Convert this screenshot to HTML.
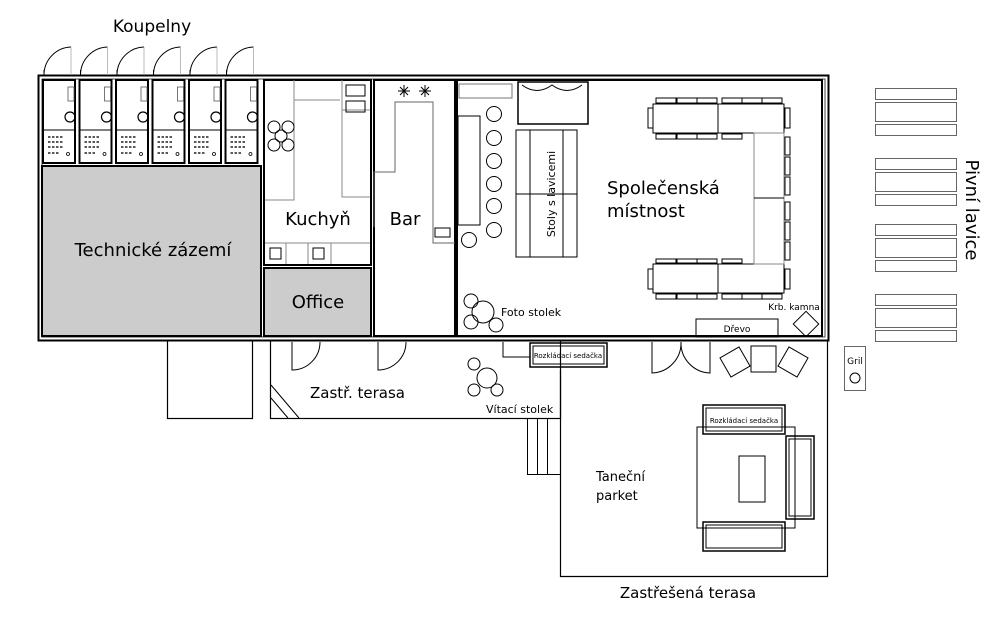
<!DOCTYPE html>
<html><head><meta charset="utf-8"><style>
html,body{margin:0;padding:0;background:#fff}
svg{display:block}
text{font-family:"DejaVu Sans","Liberation Sans",sans-serif;fill:#000}
</style></head><body>
<svg width="1000" height="620" viewBox="0 0 1000 620" xmlns="http://www.w3.org/2000/svg">
<g fill="none" stroke="#000">
<!-- terraces -->
<rect x="167.5" y="340.5" width="85" height="78" stroke-width="1.2"/>
<rect x="270.5" y="340.5" width="290" height="78" stroke-width="1.2"/>
<line x1="271" y1="385" x2="299" y2="418" stroke-width="1"/>
<line x1="271" y1="398" x2="288" y2="418" stroke-width="1"/>
<path d="M560.5 370 V576.5 H827.5 V341" stroke-width="1.2"/>
<path d="M527.5 418.5 V474.5 H560 M537.5 418.5 V474.5 M547.5 418.5 V474.5" stroke-width="1"/>
<!-- outer walls -->
<rect x="38.5" y="75.5" width="790" height="265" stroke-width="2"/>
<rect x="42" y="79" width="783" height="258" stroke-width="1" stroke="#444"/>
</g>
<!-- Technicke zazemi -->
<rect x="42" y="166" width="219" height="170" fill="#ccc" stroke="#000" stroke-width="2"/>
<!-- stalls -->
<g fill="none" stroke="#000">
<g id="st">
<rect x="43" y="80" width="32" height="83" stroke-width="2"/>
<line x1="43" y1="130" x2="75" y2="130" stroke-width="1"/>
<rect x="68" y="87" width="6" height="14" stroke-width="0.8" stroke="#555"/>
<circle cx="70" cy="117" r="5" stroke-width="1.2"/>
<path d="M44 75 A28 28 0 0 1 71 47" stroke-width="1"/>
<line x1="44" y1="75" x2="44" y2="70" stroke-width="1"/>
<line x1="71" y1="47" x2="71" y2="75" stroke="#aaa" stroke-width="0.8"/>
<g stroke-width="1.4" stroke="#222"><path d="M48 137h16M48 142h16M48 147h16M48 153h12" stroke-dasharray="2.5 1.5"/></g>
<circle cx="68" cy="154" r="1.5" stroke-width="0.8"/>
</g>
<use href="#st" x="36.5"/><use href="#st" x="73"/><use href="#st" x="109.5"/><use href="#st" x="146"/><use href="#st" x="182.5"/>
<!-- kitchen -->
<rect x="264" y="80" width="107" height="185" stroke-width="2"/>
<path d="M294 80 V200 H265 M294 100 H340 M342 80 V197 H370 M342 110 H370" stroke="#888" stroke-width="1"/>
<rect x="346" y="85" width="19" height="11" stroke-width="1"/><rect x="346" y="101" width="19" height="11" stroke-width="1"/>
<g stroke-width="1"><circle cx="274" cy="127" r="6"/><circle cx="288" cy="127" r="6"/><circle cx="281" cy="136" r="6"/><circle cx="274" cy="145" r="6"/><circle cx="288" cy="145" r="6"/></g>
<path d="M265 243 H370 M286 243 V264 M308 243 V264 M331 243 V264" stroke="#888" stroke-width="1"/>
<rect x="270" y="248" width="11" height="11" stroke-width="1"/><rect x="313" y="248" width="11" height="11" stroke-width="1"/>
<!-- office -->
<rect x="264" y="268" width="107" height="68" fill="#ccc" stroke-width="2"/>
<!-- bar -->
<rect x="374" y="80" width="81" height="256" stroke-width="2"/>
<path d="M374 227 V172 H395 V102 H433 V243 H455" stroke="#666" stroke-width="1"/>
<rect x="435" y="228" width="15" height="9" stroke-width="1"/>
<g stroke-width="1"><path d="M398 91h12M404 85v12M400 87l8 8M408 87l-8 8"/><path d="M419 91h12M425 85v12M421 87l8 8M429 87l-8 8"/></g>
<!-- social room -->
<rect x="457" y="80" width="365" height="256" stroke-width="2"/>
<rect x="459" y="84" width="53" height="14" stroke="#777" stroke-width="1"/>
<rect x="518" y="82" width="70" height="42" stroke-width="1.5"/>
<path d="M522 85 Q537 96 552 85 Q567 96 582 85" stroke-width="1"/>
<rect x="458" y="116" width="22" height="109" stroke-width="1"/>
<g stroke-width="1"><circle cx="494" cy="114" r="7.5"/><circle cx="494" cy="138" r="7.5"/><circle cx="494" cy="161" r="7.5"/><circle cx="494" cy="184" r="7.5"/><circle cx="494" cy="206" r="7.5"/><circle cx="494" cy="230" r="7.5"/><circle cx="469" cy="240" r="7.5"/></g>
<rect x="516" y="130" width="61" height="127" stroke-width="1"/>
<path d="M530 130 V257 M563 130 V257 M516 194 H577" stroke-width="1"/>
<!-- U table -->
<g stroke-width="1">
<rect x="653" y="104" width="131" height="29"/><line x1="718" y1="104" x2="718" y2="133"/>
<rect x="653" y="264" width="131" height="29"/><line x1="718" y1="264" x2="718" y2="293"/>
<rect x="754" y="133" width="30" height="131" stroke="#888"/><line x1="754" y1="198" x2="784" y2="198"/>
<path d="M656 98h20v5h-20zM677 98h20v5h-20zM697 98h20v5h-20zM722 98h20v5h-20zM742 98h20v5h-20zM762 98h20v5h-20z"/>
<path d="M656 134h20v5h-20zM677 134h20v5h-20zM697 134h20v5h-20zM722 134h20v5h-20z"/>
<path d="M656 259h20v4h-20zM677 259h20v4h-20zM697 259h20v4h-20zM722 259h20v4h-20z"/>
<path d="M656 294h20v5h-20zM677 294h20v5h-20zM697 294h20v5h-20zM722 294h20v5h-20zM742 294h20v5h-20zM762 294h20v5h-20z"/>
<path d="M648 108h5v20h-5zM648 269h5v20h-5zM785 108h5v20h-5zM785 269h5v20h-5z"/>
<path d="M785 137h5v18h-5zM785 157h5v18h-5zM785 177h5v18h-5zM785 202h5v18h-5zM785 222h5v18h-5zM785 242h5v18h-5z"/>
</g>
<g stroke-width="1"><circle cx="471" cy="301" r="7"/><circle cx="483" cy="312" r="11"/><circle cx="471" cy="322" r="7"/><circle cx="496" cy="325" r="7"/></g>
<rect x="696" y="319" width="82" height="18" stroke-width="1"/>
<rect x="797" y="315" width="18" height="18" transform="rotate(45 806 324)" stroke-width="1"/>
<!-- doors bottom -->
<g stroke-width="1">
<path d="M292 342 V370 A28 28 0 0 0 320 342"/>
<path d="M378 342 V370 A28 28 0 0 0 406 342"/>
<path d="M652 342 V373 A30 30 0 0 0 681 342 A30 30 0 0 0 710 373 V342"/>
<rect x="530" y="343" width="77" height="24" stroke-width="1.5"/><rect x="533" y="346" width="71" height="18"/>
<path d="M503 342 V357 H530"/>
<circle cx="474" cy="364" r="6"/><circle cx="487" cy="378" r="10"/><circle cx="474" cy="390" r="6"/><circle cx="497" cy="390" r="6"/>
<rect x="751" y="346" width="25" height="26"/>
<rect x="724" y="351" width="22" height="22" transform="rotate(-30 735 362)"/>
<rect x="782" y="351" width="22" height="22" transform="rotate(30 793 362)"/>
</g>
<!-- lounge -->
<g stroke-width="1">
<rect x="697" y="427" width="98" height="101"/>
<rect x="703" y="405" width="82" height="29" stroke-width="1.5"/><rect x="706" y="408" width="76" height="23"/>
<rect x="703" y="522" width="82" height="29" stroke-width="1.5"/><rect x="706" y="525" width="76" height="23"/>
<rect x="786" y="436" width="28" height="83" stroke-width="1.5"/><rect x="789" y="439" width="22" height="77"/>
<rect x="739" y="456" width="26" height="46"/>
</g>
<!-- benches -->
<g stroke="#666" stroke-width="1">
<rect x="875.5" y="88.5" width="81" height="11"/><rect x="875.5" y="102.5" width="81" height="19"/><rect x="875.5" y="124.5" width="81" height="11"/>
<rect x="875.5" y="158.5" width="81" height="11"/><rect x="875.5" y="172.5" width="81" height="19"/><rect x="875.5" y="194.5" width="81" height="11"/>
<rect x="875.5" y="224.5" width="81" height="11"/><rect x="875.5" y="238.5" width="81" height="19"/><rect x="875.5" y="260.5" width="81" height="11"/>
<rect x="875.5" y="294.5" width="81" height="11"/><rect x="875.5" y="308.5" width="81" height="19"/><rect x="875.5" y="330.5" width="81" height="11"/>
<rect x="844.5" y="346.5" width="21" height="44"/>
</g>
<circle cx="855" cy="378" r="5" stroke="#000" stroke-width="1"/>
</g>
<!-- labels -->
<text x="152" y="32" font-size="17" text-anchor="middle">Koupelny</text>
<text x="153" y="256" font-size="18" text-anchor="middle">Technické zázemí</text>
<text x="318" y="225" font-size="18" text-anchor="middle">Kuchyň</text>
<text x="405" y="225" font-size="18" text-anchor="middle">Bar</text>
<text x="318" y="308" font-size="18" text-anchor="middle">Office</text>
<text x="607" y="194" font-size="18">Společenská</text>
<text x="607" y="217" font-size="18">místnost</text>
<text x="551" y="194" font-size="11" transform="rotate(-90 551 194)" text-anchor="middle" dy="4">Stoly s lavicemi</text>
<text x="501" y="316" font-size="11">Foto stolek</text>
<text x="794" y="310" font-size="9" text-anchor="middle">Krb. kamna</text>
<text x="737" y="332" font-size="9" text-anchor="middle">Dřevo</text>
<text x="568" y="358" font-size="7" text-anchor="middle">Rozkládací sedačka</text>
<text x="744" y="423" font-size="7" text-anchor="middle">Rozkládací sedačka</text>
<text x="310" y="398" font-size="15">Zastř. terasa</text>
<text x="486" y="413" font-size="11">Vítací stolek</text>
<text x="596" y="481" font-size="13">Taneční</text>
<text x="596" y="500" font-size="13">parket</text>
<text x="688" y="598" font-size="15" text-anchor="middle">Zastřešená terasa</text>
<text x="855" y="364" font-size="9" text-anchor="middle">Gril</text>
<text x="966" y="210" font-size="18" transform="rotate(90 966 210)" text-anchor="middle">Pivní lavice</text>
</svg>
</body></html>
